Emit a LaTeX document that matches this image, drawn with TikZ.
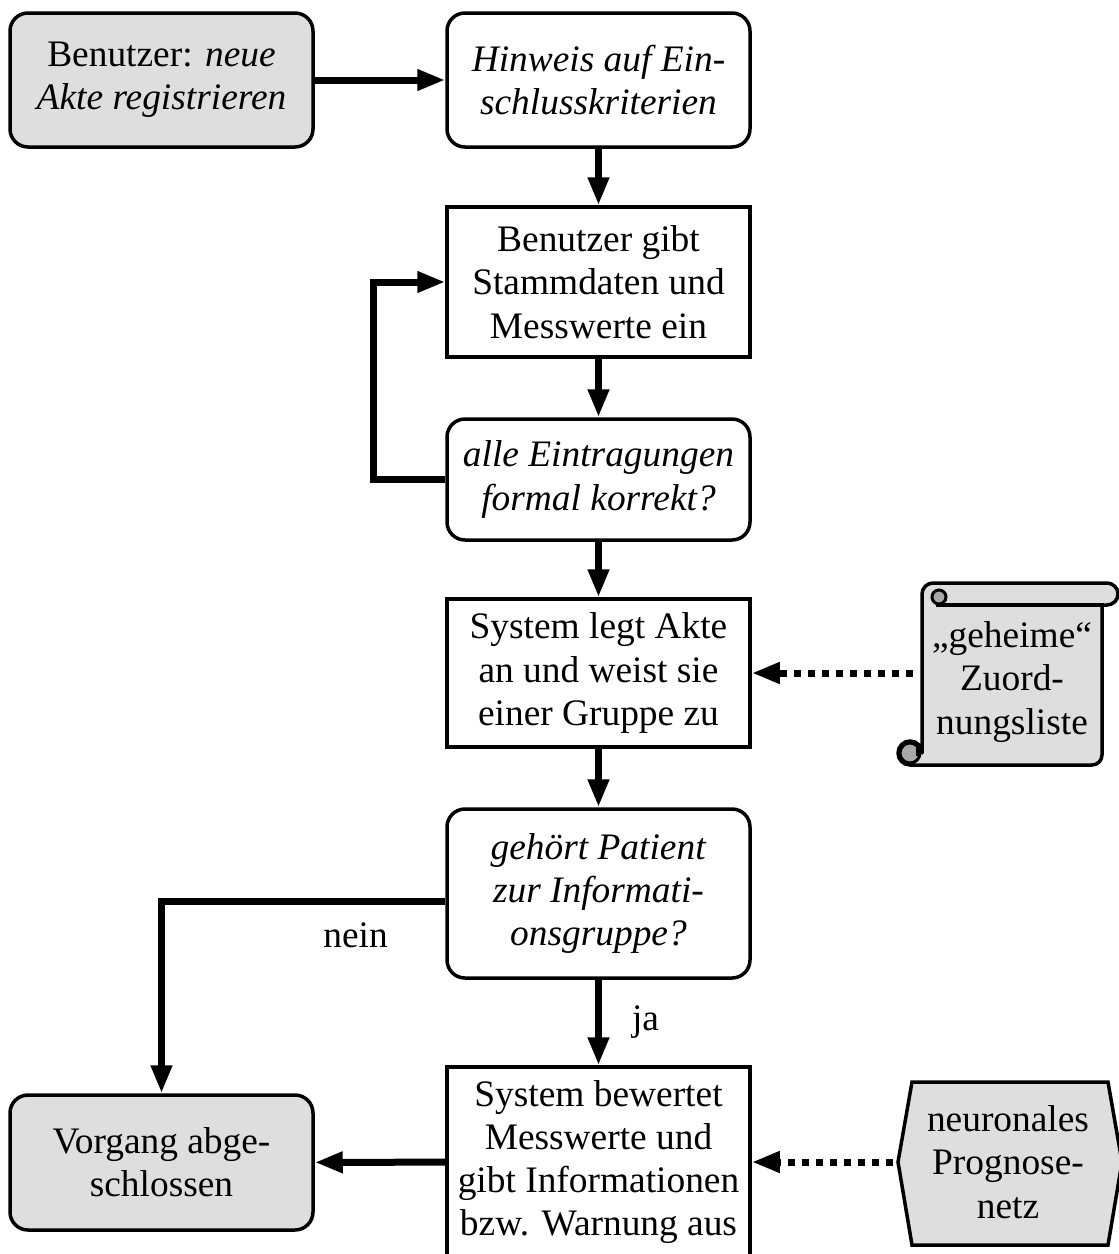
\documentclass[tikz,border=0pt]{standalone}
\usepackage{fontspec}
\setmainfont{Liberation Serif}
\usetikzlibrary{arrows.meta,calc}
\definecolor{boxgrey}{HTML}{DEDEDE}
\definecolor{curlgrey}{HTML}{A8A8A8}
\begin{document}
\begin{tikzpicture}[x=1pt,y=-1pt,
  every node/.style={font=\fontsize{37.4}{43.3}\selectfont, align=center, inner sep=0pt},
  box/.style={draw, line width=3.5pt, minimum width=303pt},
  rbox/.style={box, rounded corners=18pt},
  greybox/.style={rbox, fill=boxgrey},
  flow/.style={line width=7pt, -{Triangle[length=28pt,width=20pt]}},
  feed/.style={flow, dash pattern=on 7pt off 7pt},
  outline/.style={draw, line width=3.5pt, line join=round, fill=boxgrey},
  curl/.style={draw, line width=3pt, fill=curlgrey}
]
\useasboundingbox (0,0) rectangle (1119,1254);

% process chain
\node[greybox, minimum height=134pt] (n1) at (161.5,80)
  {Benutzer: \textit{neue}\\\textit{Akte registrieren}};
\node[rbox, minimum height=134pt] (n2) at (598.5,80)
  {\textit{Hinweis auf Ein-}\\\textit{schlusskriterien}};
\node[box, minimum height=150pt] (n3) at (598.5,282)
  {Benutzer gibt\\Stammdaten und\\Messwerte ein};
\node[rbox, minimum height=121pt] (n4) at (598.5,479.5)
  {\textit{alle Eintragungen}\\\textit{formal korrekt?}};
\node[box, minimum height=148pt] (n5) at (598.5,673)
  {System legt Akte\\an und weist sie\\einer Gruppe zu};
\node[rbox, minimum height=169pt] (n6) at (598.5,893.5)
  {\textit{gehört Patient}\\\textit{zur Informati-}\\\textit{onsgruppe?}};
\node[box, minimum height=190pt] (n7) at (598.5,1162)
  {System bewertet\\Messwerte und\\gibt Informationen\\bzw. Warnung aus};
\node[greybox, minimum height=135pt] (n8) at (161.5,1162.5)
  {Vorgang abge-\\schlossen};

% scroll: assignment list
\path[outline] (933,583) -- (1107,583) arc[start angle=-90, end angle=90, radius=11]
  -- (1102,605) -- (1102,755) arc[start angle=0, end angle=90, radius=10]
  -- (910,765) arc[start angle=90, end angle=360, radius=12]
  -- (922,594) arc[start angle=180, end angle=270, radius=11] -- cycle;
\draw[line width=3.5pt] (936,605) -- (1104,605);
\path[curl] (939,597) circle[radius=7];
\path[curl] (910,753) circle[radius=10];
\draw[line width=3pt] (917,744) -- (917,756);
\node (list) at (1012,682) {„geheime“\\Zuord-\\nungsliste};
\coordinate (listL) at (922,673);

% hexagon: neural net
\path[outline, line join=miter] (898,1162) -- (912,1082) -- (1108,1082) -- (1122,1162)
  -- (1108,1245) -- (912,1245) -- cycle;
\node (net) at (1008,1162) {neuronales\\Prognose-\\netz};
\coordinate (netL) at (898,1162);

% connectors
\draw[flow] (n1.east) -- (n2.west);
\draw[flow] (n2) -- (n3);
\draw[flow] (n3) -- (n4);
\draw[flow] (n4.west) -- ++(-72,0) |- (n3.west);
\draw[flow] (n4) -- (n5);
\draw[flow] (n5) -- (n6);
\draw[flow] (n6) -- node[right=30pt] {ja} (n7);
\draw[flow] ($(n6.west)+(0,8)$) -| node[pos=0.158, below=18pt] {nein} (n8.north);
\draw[flow] (n7) -- (n8);
\draw[feed, shorten <=9pt] (listL) -- (n5.east);
\draw[feed, shorten <=5pt] (netL) -- (n7.east);
\end{tikzpicture}
\end{document}
